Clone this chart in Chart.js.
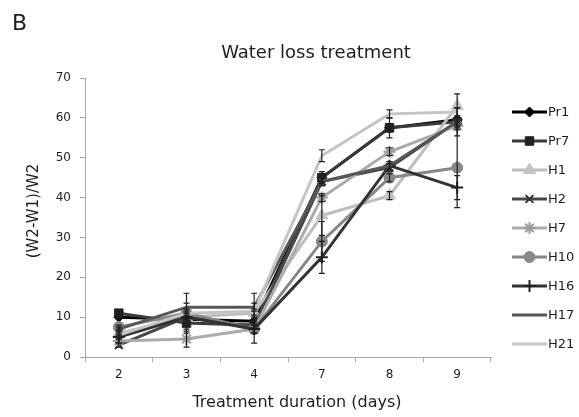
<!DOCTYPE html>
<html>
<head>
<meta charset="utf-8">
<title>Water loss treatment</title>
<script src="https://cdn.jsdelivr.net/npm/chart.js"></script>
<style>
  html, body { margin: 0; padding: 0; background: #fff; }
  #wrap { width: 579px; height: 417px; position: relative; }
</style>
</head>
<body>
<div id="wrap"><canvas id="chart" width="579" height="417"></canvas></div>
<script>
// ====== DATA ======
const days = ["2", "3", "4", "7", "8", "9"];
const yTicks = [0, 10, 20, 30, 40, 50, 60, 70];

const seriesNames = ["Pr1", "Pr7", "H1", "H2", "H7", "H10", "H16", "H17", "H21"];

const pr1 = [10, 9.5, 9, 45, 57.5, 59.5];
const pr7 = [11, 8.5, 8, 45, 57.5, 59];
const h1 = [6, 10, 11, 35.5, 40.5, 63];
const h2 = [3, 10, 7.5, 44, 47.5, 59];
const h7 = [4, 4.5, 7, 40, 51.5, 58];
const h10 = [7.5, 11, 7, 29, 45, 47.5];
const h16 = [5, 10, 7, 25, 48, 42.5];
const h17 = [7, 12.5, 12.5, 44, 48, 59];
const h21 = [5.5, 11, 11.5, 50.5, 61, 61.5];

// error (+/-)
const pr1Err = [0.5, 0.5, 0.5, 1, 1, 1];
const pr7Err = [0.5, 1.5, 1, 1.5, 2.5, 3.5];
const h1Err = [0.5, 1, 1, 5, 1, 3];
const h2Err = [0.5, 0.5, 0.5, 1, 1, 1];
const h7Err = [0.5, 2, 1, 1, 1, 1];
const h10Err = [0.5, 1, 1, 5, 1, 10];
const h16Err = [0.5, 1, 3.5, 4, 1, 3];
const h17Err = [0.5, 1, 1, 1, 1, 1];
const h21Err = [0.5, 5, 4.5, 1.5, 1, 1];

const allValues = [pr1, pr7, h1, h2, h7, h10, h16, h17, h21];
const allErrors = [pr1Err, pr7Err, h1Err, h2Err, h7Err, h10Err, h16Err, h17Err, h21Err];

// ====== STYLE ======
const lineColors = ["#000000", "#3a3a3a", "#bdbdbd", "#474747", "#ababab", "#878787", "#333333", "#575757", "#c4c4c4"];
const markerColors = ["#000000", "#222222", "#c4c4c4", "#333333", "#9a9a9a", "#888888", "#222222", "#575757", "#c4c4c4"];
const markers = ["rectRot", "rect", "triangle", "crossRot", "star", "circle", "cross", false, false];
const markerSizes = [5, 6, 7, 5.5, 6, 5.5, 6, 0, 0];

const FONT = "'DejaVu Sans', Verdana, sans-serif";
const TEXT = "#1e1e1e";

const datasets = seriesNames.map((name, i) => ({
  label: name,
  data: allValues[i],
  errors: allErrors[i],
  borderColor: lineColors[i],
  backgroundColor: markerColors[i],
  pointBorderColor: markerColors[i],
  pointBackgroundColor: markerColors[i],
  pointStyle: markers[i] || "circle",
  pointRadius: markerSizes[i],
  pointBorderWidth: (markers[i] === "cross" || markers[i] === "crossRot" || markers[i] === "star") ? 2 : 1,
  borderWidth: 3,
  tension: 0,
  fill: false,
  order: seriesNames.length - i
}));

// ====== PLUGIN: ERROR BARS ======
const errorBars = {
  id: "errorBars",
  afterDatasetsDraw(chart) {
    const ctx = chart.ctx;
    const y = chart.scales.y;
    ctx.save();
    ctx.strokeStyle = "#1e1e1e";
    ctx.lineWidth = 1.2;
    chart.data.datasets.forEach((ds, i) => {
      const meta = chart.getDatasetMeta(i);
      meta.data.forEach((pt, j) => {
        const e = ds.errors[j];
        if (!e) return;
        const top = y.getPixelForValue(ds.data[j] + e);
        const bot = y.getPixelForValue(ds.data[j] - e);
        ctx.beginPath();
        ctx.moveTo(pt.x, top); ctx.lineTo(pt.x, bot);
        ctx.moveTo(pt.x - 3, top); ctx.lineTo(pt.x + 3, top);
        ctx.moveTo(pt.x - 3, bot); ctx.lineTo(pt.x + 3, bot);
        ctx.stroke();
      });
    });
    ctx.restore();
  }
};

// ====== PLUGIN: TITLES, PANEL LETTER, LEGEND ======
const decorations = {
  id: "decorations",
  afterDraw(chart) {
    const ctx = chart.ctx;
    ctx.save();
    ctx.fillStyle = TEXT;
    ctx.textBaseline = "middle";
    ctx.font = "22px " + FONT;
    ctx.textAlign = "left";
    ctx.fillText("B", 12, 24);
    ctx.font = "18px " + FONT;
    ctx.textAlign = "center";
    ctx.fillText("Water loss treatment", 316, 53);

    // axis titles
    ctx.font = "16px " + FONT;
    ctx.fillText("Treatment duration (days)", 297, 403);
    ctx.save();
    ctx.translate(34, 211);
    ctx.rotate(-Math.PI / 2);
    ctx.font = "15px " + FONT;
    ctx.fillText("(W2-W1)/W2", 0, 0);
    ctx.restore();

    // legend
    ctx.font = "13px " + FONT;
    ctx.textAlign = "left";
    chart.data.datasets.forEach((ds, i) => {
      const ly = 112 + i * 29;
      ctx.strokeStyle = ds.borderColor;
      ctx.lineWidth = 3;
      ctx.beginPath();
      ctx.moveTo(512, ly); ctx.lineTo(547, ly);
      ctx.stroke();
      if (markers[i]) {
        ctx.fillStyle = ds.pointBackgroundColor;
        ctx.strokeStyle = ds.pointBorderColor;
        ctx.lineWidth = ds.pointBorderWidth;
        Chart.helpers.drawPoint(ctx, { pointStyle: markers[i], radius: markerSizes[i], rotation: 0, borderWidth: ds.pointBorderWidth }, 529.5, ly);
      }
      ctx.fillStyle = TEXT;
      ctx.fillText(ds.label, 548, ly + 1);
    });
    ctx.restore();
  }
};

// ====== CHART ======
new Chart(document.getElementById("chart"), {
  type: "line",
  data: { labels: days, datasets: datasets },
  options: {
    responsive: false,
    animation: false,
    layout: { padding: { left: 12, right: 88, top: 78, bottom: 6 } },
    plugins: {
      legend: { display: false },
      title: { display: false },
      tooltip: { enabled: false }
    },
    scales: {
      x: {
        offset: true,
        grid: { display: true, offset: true, drawOnChartArea: false, color: "#a8a8a8", tickLength: 5 },
        border: { color: "#a8a8a8", width: 1 },
        ticks: { color: TEXT, font: { family: FONT, size: 12 }, padding: 6 },
        afterFit(scale) { scale.height = 54; }
      },
      y: {
        min: 0,
        max: 70,
        afterBuildTicks(scale) { scale.ticks = yTicks.map(v => ({ value: v })); },
        grid: { display: true, drawOnChartArea: false, color: "#a8a8a8", tickLength: 5 },
        border: { color: "#a8a8a8", width: 1 },
        ticks: { color: TEXT, font: { family: FONT, size: 12 }, padding: 9 },
        afterFit(scale) { scale.width = 73; }
      }
    }
  },
  plugins: [errorBars, decorations]
});
</script>
</body>
</html>
